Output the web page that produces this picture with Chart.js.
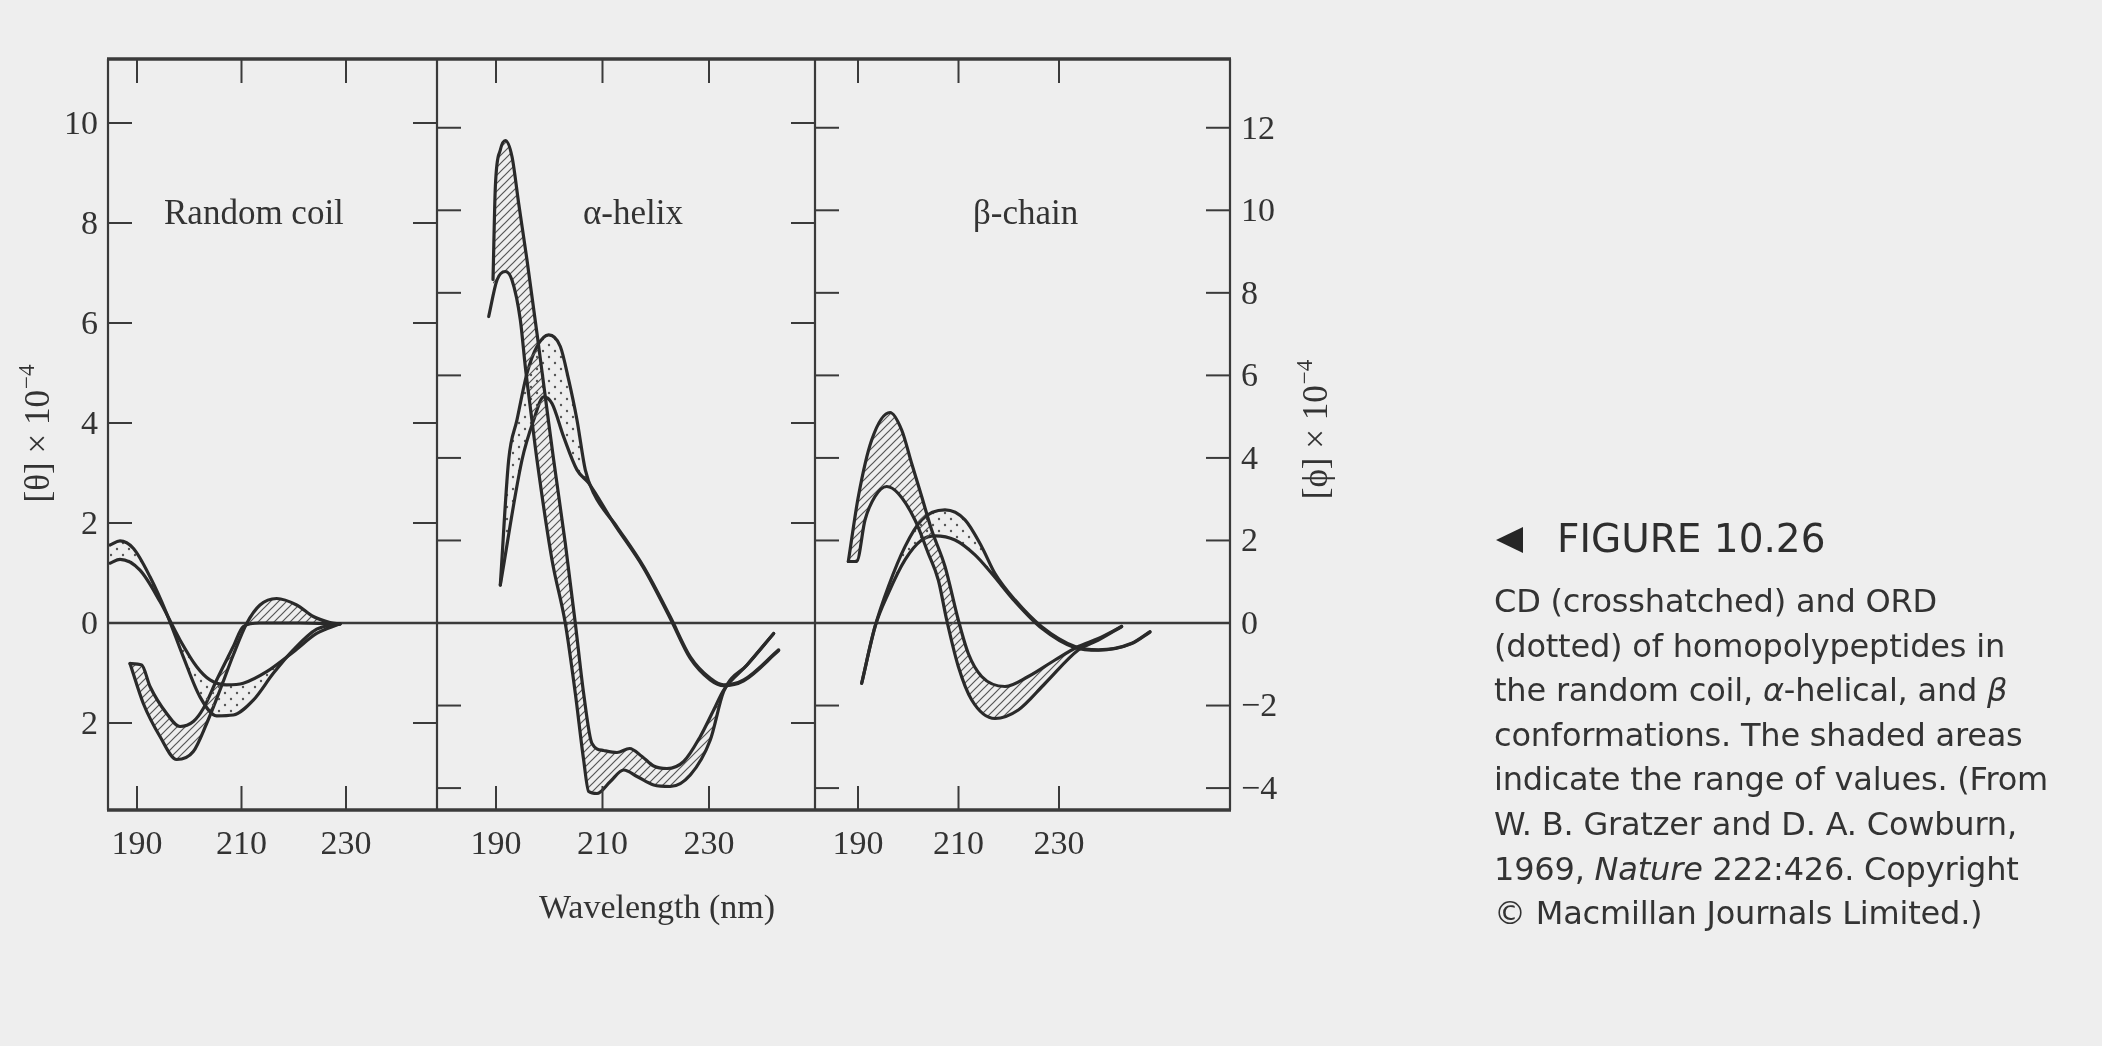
<!DOCTYPE html>
<html>
<head>
<meta charset="utf-8">
<script src="https://cdn.jsdelivr.net/npm/chart.js@4.4.1/dist/chart.umd.min.js"></script>
<style>
  html, body { margin: 0; padding: 0; background: #eeeeee; }
  #wrap { position: relative; width: 2102px; height: 1046px; overflow: hidden; }
  #cd { position: absolute; left: 0; top: 0; }
  .tri { position: absolute; left: 1496px; top: 527px; width: 0; height: 0;
         border-top: 13px solid transparent; border-bottom: 13px solid transparent;
         border-right: 27px solid #262626; }
  .fig { position: absolute; left: 1557px; top: 517px; font: 39px "DejaVu Sans", sans-serif;
         color: #2e2e2e; line-height: 44px; white-space: nowrap; }
  .body { position: absolute; left: 1494px; top: 579px; font: 32px "DejaVu Sans", sans-serif;
          color: #333; line-height: 44.6px; white-space: nowrap; letter-spacing: -0.2px; }
</style>
</head>
<body>
<div id="wrap">
  <canvas id="cd" width="2102" height="1046"></canvas>
  <div class="tri"></div>
  <div class="fig">FIGURE 10.26</div>
  <div class="body">CD (crosshatched) and ORD<br>(dotted) of homopolypeptides in<br>the random coil, <i>α</i>-helical, and <i>β</i><br>conformations. The shaded areas<br>indicate the range of values. (From<br>W. B. Gratzer and D. A. Cowburn,<br>1969, <i>Nature</i> 222:426. Copyright<br>© Macmillan Journals Limited.)</div>
</div>
<script>
// axis ticks and labels, as printed in the figure
const wavelengthTicks = [190, 210, 230];
const thetaTicks = [10, 8, 6, 4, 2, 0, -2];
const thetaTickLabels = ['10', '8', '6', '4', '2', '0', '2'];
const phiTicks = [12, 10, 8, 6, 4, 2, 0, -2, -4];
const phiTickLabels = ['12', '10', '8', '6', '4', '2', '0', '\u22122', '\u22124'];
const panelNames = ['Random coil', '\u03b1-helix', '\u03b2-chain'];

// Random coil: ORD band (dotted, [phi]) and CD band (hatched, [theta])
const coilOrdOuterNm = [184.83, 186.75, 189.29, 192.49, 195.68, 198.86, 202.06, 205.25, 208.43, 212.26, 216.09, 219.92, 224.39, 228.85];
const coilOrdOuterPhi = [1.89, 1.99, 1.81, 1.12, 0.23, -0.82, -1.79, -2.25, -2.23, -1.87, -1.22, -0.65, -0.15, -0.02];
const coilOrdInnerNm = [184.83, 186.75, 190.57, 194.40, 198.23, 201.43, 203.97, 207.17, 210.34, 214.82, 219.92, 224.39, 228.85];
const coilOrdInnerPhi = [1.45, 1.54, 1.28, 0.52, -0.41, -1.06, -1.38, -1.50, -1.46, -1.18, -0.70, -0.25, -0.02];
const coilCdOuterNm = [188.66, 191.21, 194.40, 197.60, 200.78, 203.33, 205.89, 208.43, 210.99, 213.54, 216.73, 220.56, 223.74, 226.94, 228.85];
const coilCdOuterTheta = [-0.81, -1.61, -2.27, -2.73, -2.57, -2.01, -1.34, -0.64, -0.01, 0.36, 0.49, 0.36, 0.13, 0.01, -0.02];
const coilCdInnerNm = [188.66, 190.90, 192.49, 195.68, 198.23, 200.78, 202.69, 205.25, 208.43, 210.34, 213.54, 221.20, 228.85];
const coilCdInnerTheta = [-0.81, -0.84, -1.27, -1.81, -2.07, -1.97, -1.71, -1.14, -0.47, -0.07, 0.0, 0.0, -0.02];

// alpha-helix
const helixCdOuterNm = [189.44, 189.88, 190.81, 191.75, 193.00, 194.26, 195.82, 197.70, 199.67, 200.83, 203.02, 204.90, 206.46, 208.03, 210.22, 212.72, 215.10, 217.42, 219.61, 222.11, 225.25, 228.37, 230.88, 232.76, 237.14, 242.15];
const helixCdOuterTheta = [6.87, 8.73, 9.46, 9.65, 9.33, 8.39, 7.26, 5.79, 4.19, 3.26, 1.59, -0.01, -1.41, -2.41, -2.55, -2.59, -2.51, -2.67, -2.86, -2.91, -2.77, -2.27, -1.74, -1.34, -0.84, -0.21];
const helixCdInnerNm = [188.63, 190.19, 191.75, 193.00, 194.57, 195.50, 196.59, 197.70, 200.52, 203.02, 204.90, 206.46, 207.41, 208.97, 211.47, 213.98, 216.48, 219.61, 222.73, 226.49, 230.24, 232.76, 237.14, 242.15];
const helixCdInnerTheta = [6.13, 6.86, 7.03, 6.86, 6.06, 5.13, 4.19, 3.26, 1.26, -0.01, -1.41, -2.74, -3.37, -3.41, -3.17, -2.94, -3.07, -3.24, -3.27, -3.04, -2.34, -1.37, -0.84, -0.21];
const helixOrdOuterNm = [190.81, 192.38, 193.94, 195.82, 197.70, 199.90, 202.08, 203.65, 205.21, 206.77, 208.35, 212.72, 217.74, 222.73, 226.49, 230.24, 232.76, 236.52, 243.09];
const helixOrdOuterPhi = [0.92, 3.95, 4.92, 6.05, 6.70, 6.98, 6.70, 5.89, 4.92, 3.71, 3.14, 2.33, 1.36, 0.15, -0.82, -1.34, -1.50, -1.38, -0.65];
const helixOrdInnerNm = [190.81, 194.88, 197.08, 198.96, 200.52, 202.71, 205.21, 207.41, 212.10, 217.74, 222.73, 226.49, 230.24, 232.76, 236.52, 243.09];
const helixOrdInnerPhi = [0.92, 3.95, 4.92, 5.48, 5.32, 4.51, 3.71, 3.39, 2.42, 1.33, 0.11, -0.86, -1.38, -1.52, -1.40, -0.67];

// beta-chain
const betaCdOuterNm = [188.07, 190.07, 192.72, 196.37, 198.69, 200.68, 202.67, 204.66, 207.31, 209.96, 211.95, 214.61, 219.25, 223.89, 229.20, 233.84, 237.83, 242.47];
const betaCdOuterTheta = [1.23, 2.53, 3.66, 4.21, 3.86, 3.19, 2.53, 1.86, 1.13, 0.06, -0.61, -1.07, -1.27, -1.07, -0.74, -0.47, -0.31, -0.07];
const betaCdInnerNm = [188.07, 189.73, 191.39, 193.38, 195.71, 198.02, 201.34, 203.99, 205.98, 207.65, 209.96, 212.63, 217.26, 221.90, 227.21, 233.84, 237.83, 242.47];
const betaCdInnerTheta = [1.23, 1.23, 2.06, 2.53, 2.73, 2.59, 2.06, 1.39, 0.86, 0.06, -0.87, -1.54, -1.91, -1.74, -1.21, -0.54, -0.34, -0.07];
const betaOrdOuterNm = [190.73, 193.38, 196.03, 199.35, 202.67, 207.31, 211.29, 214.61, 217.26, 221.24, 226.56, 233.18, 237.83, 244.47, 248.11];
const betaOrdOuterPhi = [-1.46, -0.09, 0.88, 1.85, 2.50, 2.74, 2.50, 1.85, 1.20, 0.56, -0.09, -0.57, -0.65, -0.49, -0.21];
const betaOrdInnerNm = [190.73, 193.38, 196.03, 199.35, 202.67, 205.32, 209.30, 213.28, 216.61, 221.24, 226.56, 233.18, 237.83, 244.47, 248.11];
const betaOrdInnerPhi = [-1.46, -0.09, 0.72, 1.53, 2.01, 2.11, 2.01, 1.65, 1.20, 0.52, -0.13, -0.60, -0.66, -0.50, -0.22];

const ink = '#2a2a2a';
const textInk = '#333333';
const serif = '"Liberation Serif", "DejaVu Serif", serif';

const canvas = document.getElementById('cd');
const ctx = canvas.getContext('2d');

// crosshatch and dot fills
function hatchPattern() {
    const c = document.createElement('canvas');
    c.width = 8; c.height = 8;
    const g = c.getContext('2d');
    g.strokeStyle = '#555';
    g.lineWidth = 1.2;
    g.beginPath();
    g.moveTo(-2, 10); g.lineTo(10, -2);
    g.moveTo(-2, 2); g.lineTo(2, -2);
    g.moveTo(6, 10); g.lineTo(10, 6);
    g.stroke();
    return ctx.createPattern(c, 'repeat');
}
function dotPattern() {
    const c = document.createElement('canvas');
    c.width = 12; c.height = 12;
    const g = c.getContext('2d');
    g.fillStyle = '#555';
    [[3, 3], [9, 9]].forEach(p => { g.beginPath(); g.arc(p[0], p[1], 1.2, 0, Math.PI * 2); g.fill(); });
    return ctx.createPattern(c, 'repeat');
}
const hatch = hatchPattern();
const dots = dotPattern();

function pts(nm, val) {
    return nm.map((v, i) => ({ x: v, y: val[i] }));
}
function curve(nm, val, xAxis, yAxis, fillTarget, pattern) {
    return {
        data: pts(nm, val),
        xAxisID: xAxis,
        yAxisID: yAxis,
        borderColor: ink,
        borderWidth: 3.2,
        borderJoinStyle: 'round',
        borderCapStyle: 'round',
        pointRadius: 0,
        cubicInterpolationMode: 'monotone',
        backgroundColor: pattern || 'transparent',
        fill: fillTarget === undefined ? false : { target: fillTarget, above: pattern, below: pattern }
    };
}

const datasets = [
    curve(coilOrdOuterNm, coilOrdOuterPhi, 'x1', 'yPhi'),
    curve(coilOrdInnerNm, coilOrdInnerPhi, 'x1', 'yPhi', 0, dots),
    curve(coilCdOuterNm, coilCdOuterTheta, 'x1', 'y'),
    curve(coilCdInnerNm, coilCdInnerTheta, 'x1', 'y', 2, hatch),
    curve(helixCdOuterNm, helixCdOuterTheta, 'x2', 'y'),
    curve(helixCdInnerNm, helixCdInnerTheta, 'x2', 'y', 4, hatch),
    curve(helixOrdOuterNm, helixOrdOuterPhi, 'x2', 'yPhi'),
    curve(helixOrdInnerNm, helixOrdInnerPhi, 'x2', 'yPhi', 6, dots),
    curve(betaCdOuterNm, betaCdOuterTheta, 'x3', 'y'),
    curve(betaCdInnerNm, betaCdInnerTheta, 'x3', 'y', 8, hatch),
    curve(betaOrdOuterNm, betaOrdOuterPhi, 'x3', 'yPhi'),
    curve(betaOrdInnerNm, betaOrdInnerPhi, 'x3', 'yPhi', 10, dots)
];

function seg(c, x1, y1, x2, y2) {
    c.beginPath(); c.moveTo(x1, y1); c.lineTo(x2, y2); c.stroke();
}

// rotated axis title with a superscript exponent
function sideTitle(c, cx, cy, main, sup) {
    c.save();
    c.translate(cx, cy);
    c.rotate(-Math.PI / 2);
    c.fillStyle = textInk;
    c.textBaseline = 'alphabetic';
    c.textAlign = 'left';
    c.font = '35px ' + serif;
    const w1 = c.measureText(main).width;
    c.font = '23px ' + serif;
    const w2 = c.measureText(sup).width;
    const x0 = -(w1 + w2) / 2;
    c.font = '35px ' + serif;
    c.fillText(main, x0, 11);
    c.font = '23px ' + serif;
    c.fillText(sup, x0 + w1 + 1, -4);
    c.restore();
}

const frame = {
    id: 'frame',
    beforeDatasetsDraw(chart) {
        const c = chart.ctx, a = chart.chartArea;
        const y0 = chart.scales.y.getPixelForValue(0);
        c.save();
        c.strokeStyle = '#3a3a3a';
        c.lineWidth = 2.4;
        seg(c, a.left, y0, a.right, y0);
        c.restore();
    },
    afterDatasetsDraw(chart) {
        const c = chart.ctx, a = chart.chartArea, s = chart.scales;
        const xs = [s.x1, s.x2, s.x3];
        const tick = 24;
        c.save();
        c.strokeStyle = '#3a3a3a';
        c.lineWidth = 3.4;
        seg(c, a.left - 1, a.top, a.right + 1, a.top);
        seg(c, a.left - 1, a.bottom, a.right + 1, a.bottom);
        c.lineWidth = 2.2;
        [a.left, xs[0].right, xs[1].right, a.right].forEach(x => seg(c, x, a.top, x, a.bottom));

        // wavelength ticks, top and bottom, with labels under the bottom ones
        c.lineWidth = 2;
        c.fillStyle = textInk;
        c.font = '34px ' + serif;
        c.textAlign = 'center';
        c.textBaseline = 'alphabetic';
        xs.forEach(sc => {
            wavelengthTicks.forEach(v => {
                const px = sc.getPixelForValue(v);
                seg(c, px, a.top, px, a.top + tick);
                seg(c, px, a.bottom, px, a.bottom - tick);
                c.fillText(String(v), px, 854);
            });
        });

        // [theta] ticks: left axis and the left side of both dividers
        thetaTicks.forEach((v, i) => {
            const py = s.y.getPixelForValue(v);
            seg(c, a.left, py, a.left + tick, py);
            seg(c, xs[0].right - tick, py, xs[0].right, py);
            seg(c, xs[1].right - tick, py, xs[1].right, py);
            c.textAlign = 'right';
            c.textBaseline = 'middle';
            c.fillText(thetaTickLabels[i], a.left - 10, py + 2);
        });
        // [phi] ticks: right side of both dividers and the right axis
        phiTicks.forEach((v, i) => {
            const py = s.yPhi.getPixelForValue(v);
            seg(c, xs[0].right, py, xs[0].right + tick, py);
            seg(c, xs[1].right, py, xs[1].right + tick, py);
            seg(c, a.right - tick, py, a.right, py);
            c.textAlign = 'left';
            c.textBaseline = 'middle';
            c.fillText(phiTickLabels[i], a.right + 11, py + 2);
        });

        // panel names
        c.textAlign = 'left';
        c.textBaseline = 'alphabetic';
        c.font = '35px ' + serif;
        const nameX = [xs[0].left + 56, xs[1].left + 146, xs[2].left + 158];
        panelNames.forEach((n, i) => c.fillText(n, nameX[i], 224));

        c.font = '34px ' + serif;
        c.textAlign = 'center';
        c.fillText('Wavelength (nm)', 657, 918);

        sideTitle(c, 38, 434, '[\u03b8] \u00d7 10', '\u22124');
        sideTitle(c, 1316, 430, '[\u03d5] \u00d7 10', '\u22124');
        c.restore();
    }
};

function hidden(extra) {
    return Object.assign({ type: 'linear', display: false }, extra);
}

new Chart(canvas, {
    type: 'line',
    data: { datasets: datasets },
    options: {
        responsive: false,
        animation: false,
        devicePixelRatio: 1,
        layout: { padding: { left: 108, top: 59, right: 872, bottom: 236 } },
        plugins: { legend: { display: false }, tooltip: { enabled: false } },
        scales: {
            x1: hidden({ position: 'bottom', stack: 'nm', stackWeight: 329, min: 184.45, max: 247.42 }),
            x2: hidden({ position: 'bottom', stack: 'nm', stackWeight: 378, min: 178.92, max: 249.91 }),
            x3: hidden({ position: 'bottom', stack: 'nm', stackWeight: 415, min: 181.44, max: 264.03 }),
            y: hidden({ position: 'left', min: -3.74, max: 11.28 }),
            yPhi: hidden({ position: 'right', min: -4.531, max: 13.666 })
        }
    },
    plugins: [frame]
});
</script>
</body>
</html>
